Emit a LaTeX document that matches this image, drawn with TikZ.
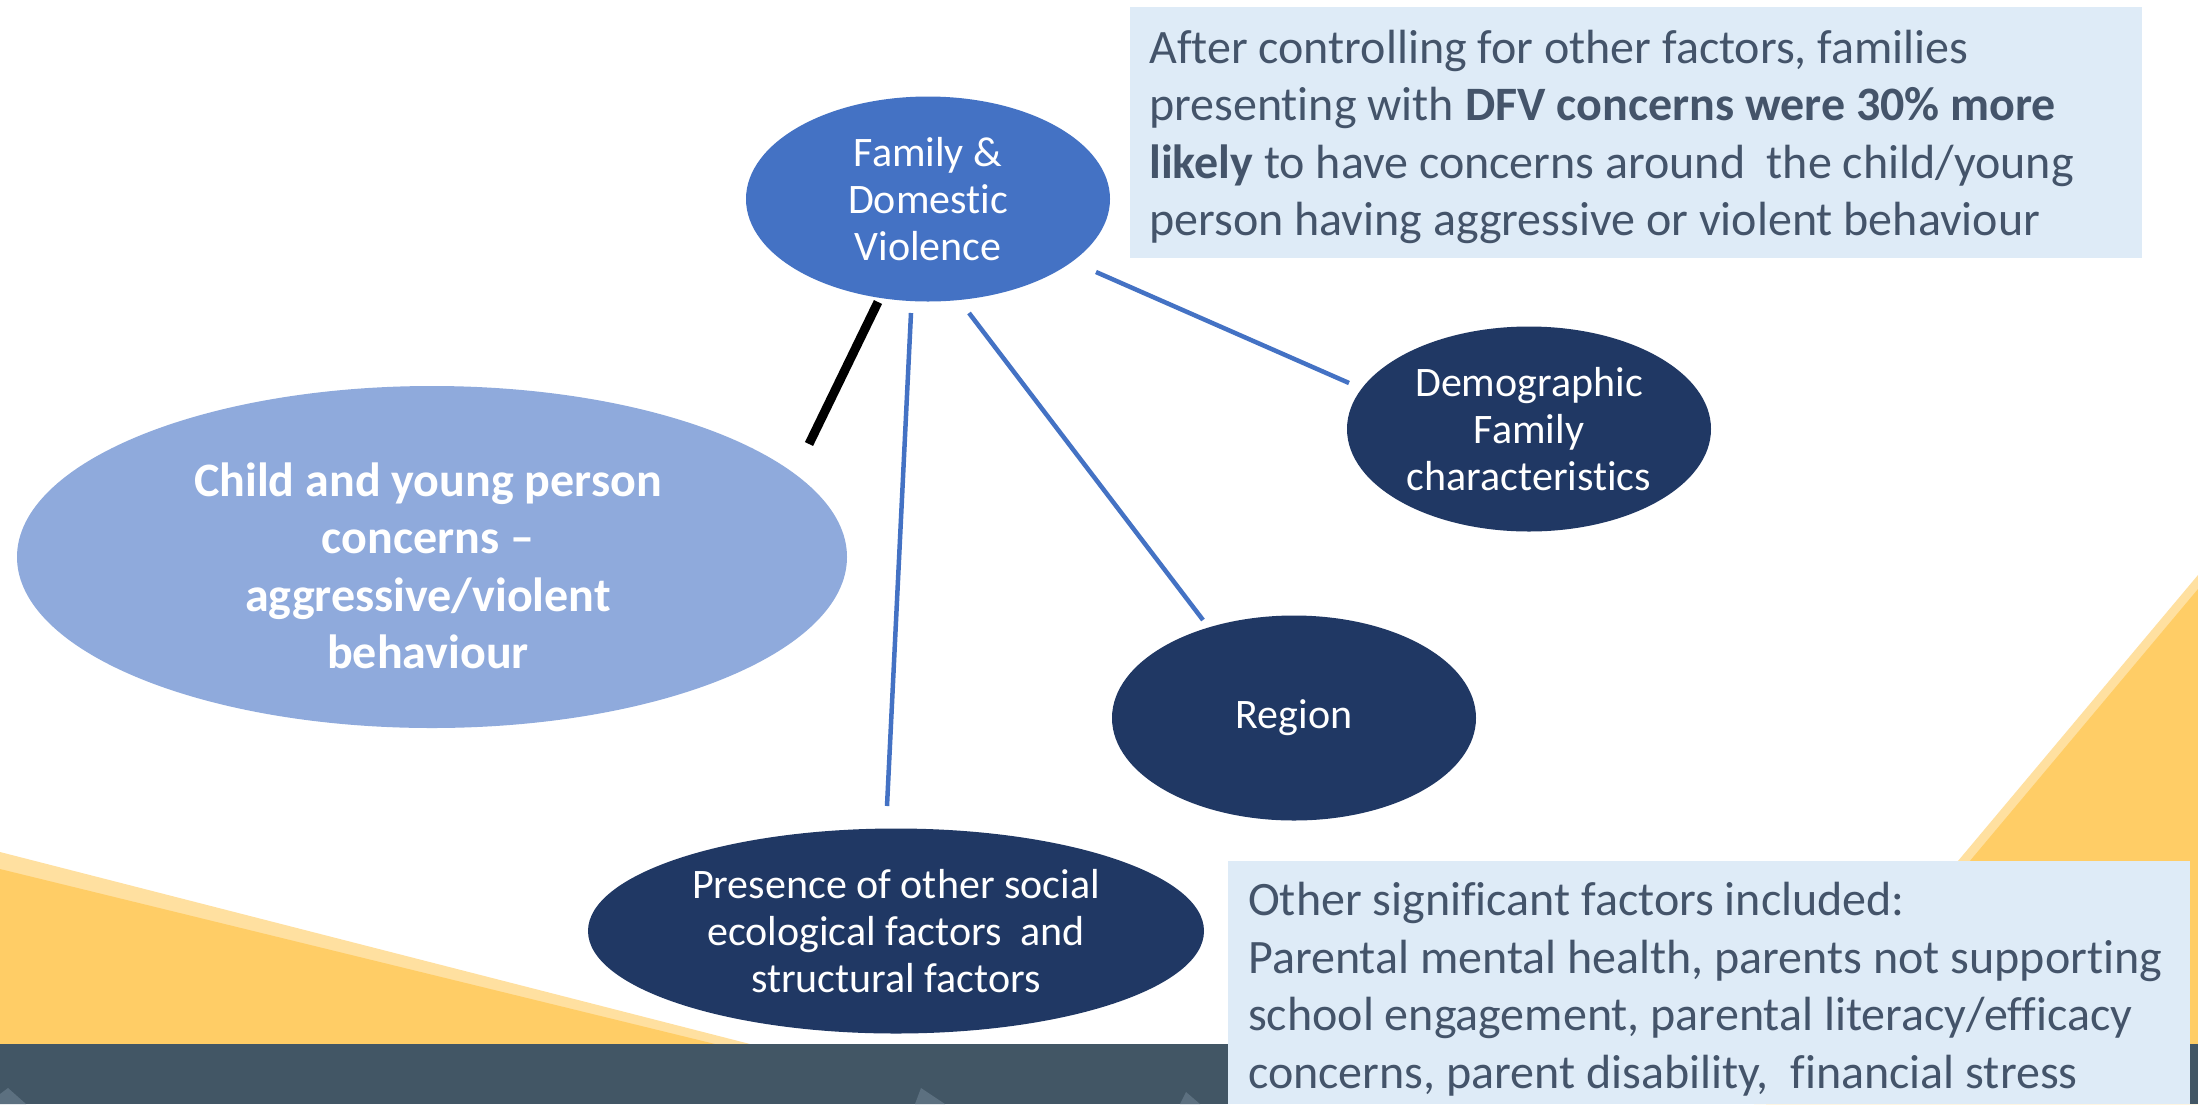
\documentclass[tikz,border=0pt]{standalone}
\usepackage{fontspec}
\setmainfont{Carlito}[Ligatures={TeX,NoCommon}]
\usetikzlibrary{shapes.geometric}
\definecolor{fdvblue}{RGB}{68,114,196}
\definecolor{childblue}{RGB}{143,170,220}
\definecolor{navy}{RGB}{32,56,100}
\definecolor{boxfill}{RGB}{222,235,247}
\definecolor{boxtext}{RGB}{68,84,106}
\definecolor{barc}{RGB}{66,86,101}
\definecolor{barlight}{RGB}{92,112,128}
\definecolor{yellowc}{RGB}{255,205,102}
\definecolor{ylight}{RGB}{255,224,160}
\tikzset{
  ell/.style={ellipse, inner sep=0pt, text=white, align=center, font=\fontsize{42}{47}\selectfont},
  elltext/.style={inner sep=0pt, text=white, align=center},
  infobox/.style={fill=boxfill, inner sep=0pt, anchor=north west},
  infotext/.style={text=boxtext, align=left, inner sep=0pt, anchor=west, font=\fontsize{48}{57.5}\selectfont},
  blueline/.style={draw=fdvblue, line width=4.5pt},
  blackline/.style={draw=black, line width=9pt}
}
\begin{document}
\begin{tikzpicture}[x=1pt,y=-1pt]
\useasboundingbox (0,0) rectangle (2198,1104);
\fill[white] (0,0) rectangle (2198,1104);
% decorative background
\fill[ylight] (0,852) -- (750,1044) -- (0,1044) -- cycle;
\fill[yellowc] (0,869) -- (715,1044) -- (0,1044) -- cycle;
\fill[ylight] (2198,575) -- (1754,1104) -- (2198,1104) -- cycle;
\fill[yellowc] (2198,589) -- (1766,1104) -- (2198,1104) -- cycle;
\fill[barc] (0,1044) rectangle (2198,1104);
\fill[barlight] (0,1094) -- (8,1088) -- (26,1104) -- (0,1104) -- cycle;
\fill[barlight] (915,1104) -- (921,1088) -- (945,1104) -- cycle;
\fill[barlight] (1180,1104) -- (1186,1092) -- (1200,1104) -- cycle;

% ellipses
\node[ell, fill=fdvblue, minimum width=364pt, minimum height=205pt] (fdv) at (928,199) {Family \&\\Domestic\\Violence};
\node[ell, fill=childblue, minimum width=830pt, minimum height=342pt] (child) at (432,557) {};
\node[elltext, font=\fontsize{48}{57.5}\selectfont\bfseries] (childtext) at (428,566) {Child and young person\\concerns –\\aggressive/violent\\behaviour};
\node[ell, fill=navy, minimum width=364pt, minimum height=205pt] (demo) at (1529,429) {Demographic\\Family\\characteristics};
\node[ell, fill=navy, minimum width=364pt, minimum height=205pt] (region) at (1294,718) {Region};
\node[ell, fill=navy, minimum width=616pt, minimum height=205pt] (pres) at (896,931) {Presence of other social\\ecological factors~ and\\structural factors};

% info boxes
\node[infobox, minimum width=1012pt, minimum height=251pt] (topbox) at (1130,7) {};
\node[infotext] (toptext) at (1149,137) {After controlling for other factors, families\\presenting with \textbf{DFV concerns were 30\% more}\\\textbf{likely} to have concerns around~ the child/young\\person having aggressive or violent behaviour};
\node[infobox, minimum width=962pt, minimum height=243pt] (botbox) at (1228,861) {};
\node[infotext] (bottext) at (1248,989) {Other significant factors included:\\Parental mental health, parents not supporting\\school engagement, parental literacy/efficacy\\concerns, parent disability,~ financial stress};

% connectors
\coordinate (bkA) at (878,302);
\coordinate (bkB) at (809,444);
\coordinate (b1A) at (911,313);
\coordinate (b1B) at (887,806);
\coordinate (b2A) at (969,313);
\coordinate (b2B) at (1203,620);
\coordinate (b3A) at (1096,272);
\coordinate (b3B) at (1349,383);
\draw[blackline] (bkA) -- (bkB);
\draw[blueline] (b1A) -- (b1B);
\draw[blueline] (b2A) -- (b2B);
\draw[blueline] (b3A) -- (b3B);
\end{tikzpicture}
\end{document}
